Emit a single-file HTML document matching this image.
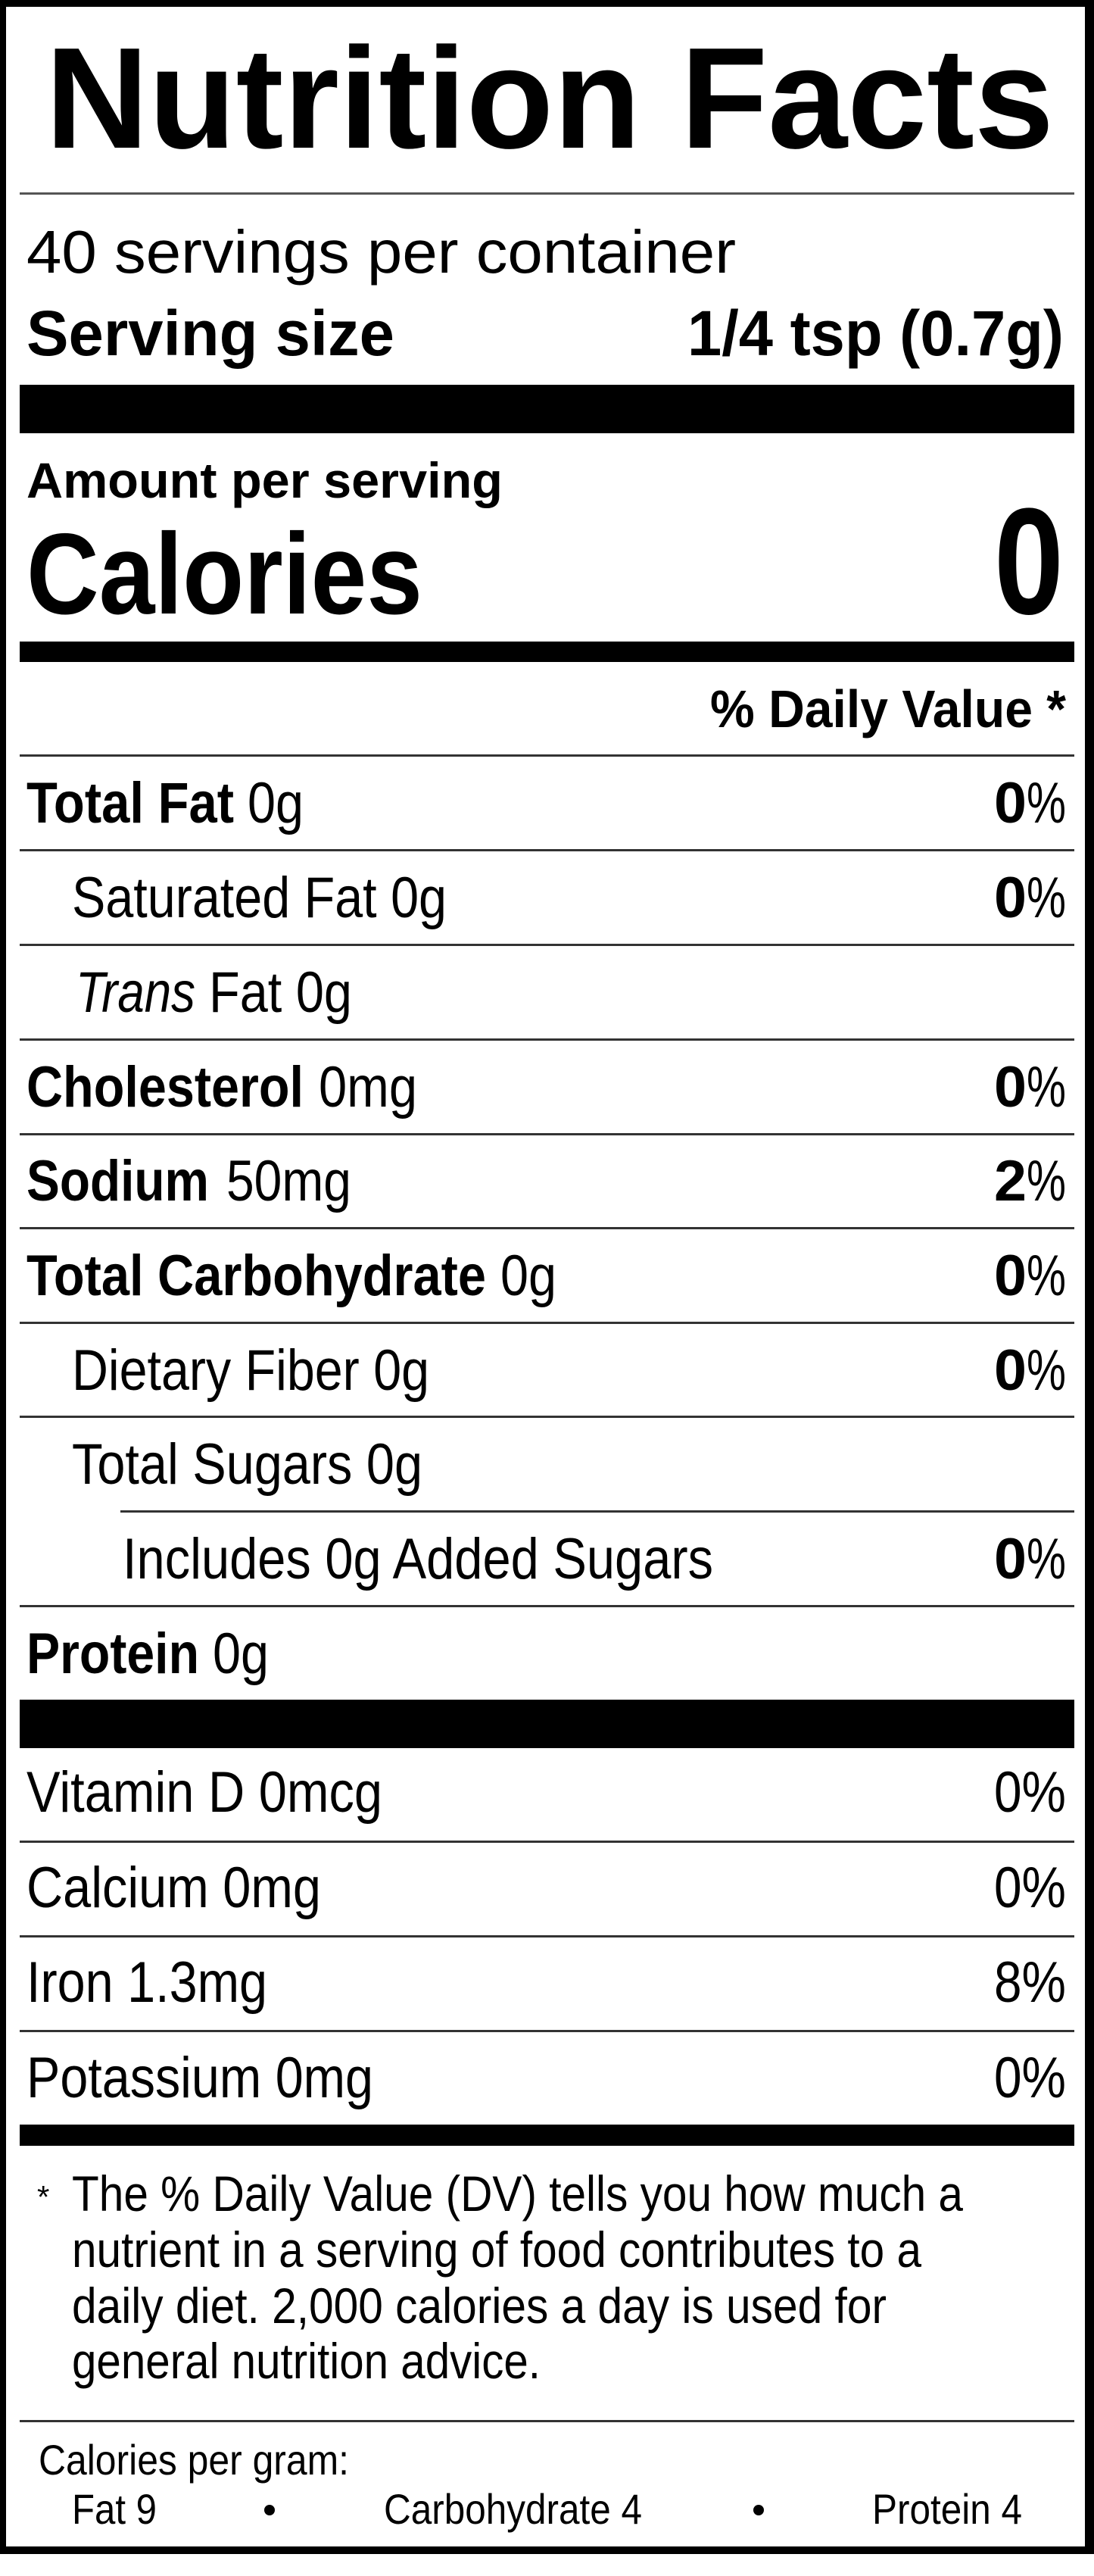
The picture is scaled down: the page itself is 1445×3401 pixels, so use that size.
<!DOCTYPE html>
<html><head><meta charset="utf-8"><style>
html,body{margin:0;padding:0;background:#fff;}
svg{display:block;}
text{font-family:"Liberation Sans",Arial,sans-serif;fill:#000;}
.b{font-weight:bold;}
</style></head><body>
<svg width="1445" height="3401" viewBox="0 0 1445 3401" xmlns="http://www.w3.org/2000/svg">
<rect x="0" y="0" width="1445" height="3401" fill="#fff"/>
<rect x="0" y="0" width="1445" height="9" fill="#000"/>
<rect x="0" y="0" width="8" height="3372" fill="#000"/>
<rect x="1433" y="0" width="12" height="3372" fill="#000"/>
<rect x="0" y="3362" width="1445" height="10" fill="#000"/>

<text class="b" x="60" y="195" font-size="190" textLength="1332" lengthAdjust="spacingAndGlyphs">Nutrition Facts</text>
<rect x="26" y="254" width="1393" height="3" fill="#555"/>
<text x="35" y="360" font-size="80" textLength="937" lengthAdjust="spacingAndGlyphs">40 servings per container</text>
<text class="b" x="35" y="469" font-size="84" textLength="486" lengthAdjust="spacingAndGlyphs">Serving size</text>
<text class="b" x="908" y="469" font-size="84" textLength="497" lengthAdjust="spacingAndGlyphs">1/4 tsp (0.7g)</text>
<rect x="26" y="508" width="1393" height="64" fill="#000"/>
<text class="b" x="35" y="657" font-size="66" textLength="629" lengthAdjust="spacingAndGlyphs">Amount per serving</text>
<text class="b" x="35" y="810" font-size="152" textLength="523" lengthAdjust="spacingAndGlyphs">Calories</text>
<text class="b" x="1313" y="810" font-size="200" textLength="92" lengthAdjust="spacingAndGlyphs">0</text>
<rect x="26" y="847" width="1393" height="27" fill="#000"/>
<text class="b" x="938" y="960" font-size="70" textLength="470" lengthAdjust="spacingAndGlyphs">% Daily Value *</text>
<rect x="26" y="996" width="1393" height="3" fill="#333"/>

<text class="b" x="35" y="1086" font-size="76" textLength="274" lengthAdjust="spacingAndGlyphs">Total Fat</text>
<text x="327" y="1086" font-size="76" textLength="74" lengthAdjust="spacingAndGlyphs">0g</text>
<text class="b" x="1313" y="1086" font-size="76" textLength="43" lengthAdjust="spacingAndGlyphs">0</text><text x="1356" y="1086" font-size="76" textLength="52" lengthAdjust="spacingAndGlyphs">%</text>
<rect x="26" y="1121" width="1393" height="3" fill="#333"/>

<text x="95" y="1211" font-size="76" textLength="495" lengthAdjust="spacingAndGlyphs">Saturated Fat 0g</text>
<text class="b" x="1313" y="1211" font-size="76" textLength="43" lengthAdjust="spacingAndGlyphs">0</text><text x="1356" y="1211" font-size="76" textLength="52" lengthAdjust="spacingAndGlyphs">%</text>
<rect x="26" y="1246" width="1393" height="3" fill="#333"/>

<text x="100" y="1336" font-size="76" font-style="italic" textLength="158" lengthAdjust="spacingAndGlyphs">Trans</text>
<text x="276" y="1336" font-size="76" textLength="189" lengthAdjust="spacingAndGlyphs">Fat 0g</text>
<rect x="26" y="1371" width="1393" height="3" fill="#333"/>

<text class="b" x="35" y="1461" font-size="76" textLength="366" lengthAdjust="spacingAndGlyphs">Cholesterol</text>
<text x="421" y="1461" font-size="76" textLength="130" lengthAdjust="spacingAndGlyphs">0mg</text>
<text class="b" x="1313" y="1461" font-size="76" textLength="43" lengthAdjust="spacingAndGlyphs">0</text><text x="1356" y="1461" font-size="76" textLength="52" lengthAdjust="spacingAndGlyphs">%</text>
<rect x="26" y="1496" width="1393" height="3" fill="#333"/>

<text class="b" x="35" y="1585" font-size="76" textLength="241" lengthAdjust="spacingAndGlyphs">Sodium</text>
<text x="299" y="1585" font-size="76" textLength="165" lengthAdjust="spacingAndGlyphs">50mg</text>
<text class="b" x="1313" y="1585" font-size="76" textLength="43" lengthAdjust="spacingAndGlyphs">2</text><text x="1356" y="1585" font-size="76" textLength="52" lengthAdjust="spacingAndGlyphs">%</text>
<rect x="26" y="1620" width="1393" height="3" fill="#333"/>

<text class="b" x="35" y="1710" font-size="76" textLength="607" lengthAdjust="spacingAndGlyphs">Total Carbohydrate</text>
<text x="661" y="1710" font-size="76" textLength="74" lengthAdjust="spacingAndGlyphs">0g</text>
<text class="b" x="1313" y="1710" font-size="76" textLength="43" lengthAdjust="spacingAndGlyphs">0</text><text x="1356" y="1710" font-size="76" textLength="52" lengthAdjust="spacingAndGlyphs">%</text>
<rect x="26" y="1745" width="1393" height="3" fill="#333"/>

<text x="95" y="1835" font-size="76" textLength="472" lengthAdjust="spacingAndGlyphs">Dietary Fiber 0g</text>
<text class="b" x="1313" y="1835" font-size="76" textLength="43" lengthAdjust="spacingAndGlyphs">0</text><text x="1356" y="1835" font-size="76" textLength="52" lengthAdjust="spacingAndGlyphs">%</text>
<rect x="26" y="1869" width="1393" height="3" fill="#333"/>

<text x="95" y="1959" font-size="76" textLength="463" lengthAdjust="spacingAndGlyphs">Total Sugars 0g</text>
<rect x="159" y="1994" width="1260" height="3" fill="#333"/>

<text x="162" y="2084" font-size="76" textLength="780" lengthAdjust="spacingAndGlyphs">Includes 0g Added Sugars</text>
<text class="b" x="1313" y="2084" font-size="76" textLength="43" lengthAdjust="spacingAndGlyphs">0</text><text x="1356" y="2084" font-size="76" textLength="52" lengthAdjust="spacingAndGlyphs">%</text>
<rect x="26" y="2119" width="1393" height="3" fill="#333"/>

<text class="b" x="35" y="2209" font-size="76" textLength="228" lengthAdjust="spacingAndGlyphs">Protein</text>
<text x="281" y="2209" font-size="76" textLength="74" lengthAdjust="spacingAndGlyphs">0g</text>
<rect x="26" y="2244" width="1393" height="64" fill="#000"/>

<text x="35" y="2392" font-size="76" textLength="470" lengthAdjust="spacingAndGlyphs">Vitamin D 0mcg</text>
<text x="1313" y="2392" font-size="76" textLength="95" lengthAdjust="spacingAndGlyphs">0%</text>
<rect x="26" y="2430" width="1393" height="3" fill="#333"/>

<text x="35" y="2518" font-size="76" textLength="389" lengthAdjust="spacingAndGlyphs">Calcium 0mg</text>
<text x="1313" y="2518" font-size="76" textLength="95" lengthAdjust="spacingAndGlyphs">0%</text>
<rect x="26" y="2555" width="1393" height="3" fill="#333"/>

<text x="35" y="2643" font-size="76" textLength="318" lengthAdjust="spacingAndGlyphs">Iron 1.3mg</text>
<text x="1313" y="2643" font-size="76" textLength="95" lengthAdjust="spacingAndGlyphs">8%</text>
<rect x="26" y="2680" width="1393" height="3" fill="#333"/>

<text x="35" y="2769" font-size="76" textLength="458" lengthAdjust="spacingAndGlyphs">Potassium 0mg</text>
<text x="1313" y="2769" font-size="76" textLength="95" lengthAdjust="spacingAndGlyphs">0%</text>
<rect x="26" y="2805" width="1393" height="28" fill="#000"/>

<text x="49" y="2915" font-size="42">*</text>
<text x="95" y="2919" font-size="66" textLength="1177" lengthAdjust="spacingAndGlyphs">The % Daily Value (DV) tells you how much a</text>
<text x="95" y="2993" font-size="66" textLength="1122" lengthAdjust="spacingAndGlyphs">nutrient in a serving of food contributes to a</text>
<text x="95" y="3067" font-size="66" textLength="1076" lengthAdjust="spacingAndGlyphs">daily diet. 2,000 calories a day is used for</text>
<text x="95" y="3140" font-size="66" textLength="619" lengthAdjust="spacingAndGlyphs">general nutrition advice.</text>
<rect x="26" y="3195" width="1393" height="3" fill="#333"/>

<text x="51" y="3267" font-size="56" textLength="410" lengthAdjust="spacingAndGlyphs">Calories per gram:</text>
<text x="95" y="3332" font-size="56" textLength="112" lengthAdjust="spacingAndGlyphs">Fat 9</text>
<circle cx="356" cy="3314" r="7" fill="#000"/>
<text x="507" y="3332" font-size="56" textLength="341" lengthAdjust="spacingAndGlyphs">Carbohydrate 4</text>
<circle cx="1002" cy="3314" r="7" fill="#000"/>
<text x="1152" y="3332" font-size="56" textLength="198" lengthAdjust="spacingAndGlyphs">Protein 4</text>
</svg>
</body></html>
